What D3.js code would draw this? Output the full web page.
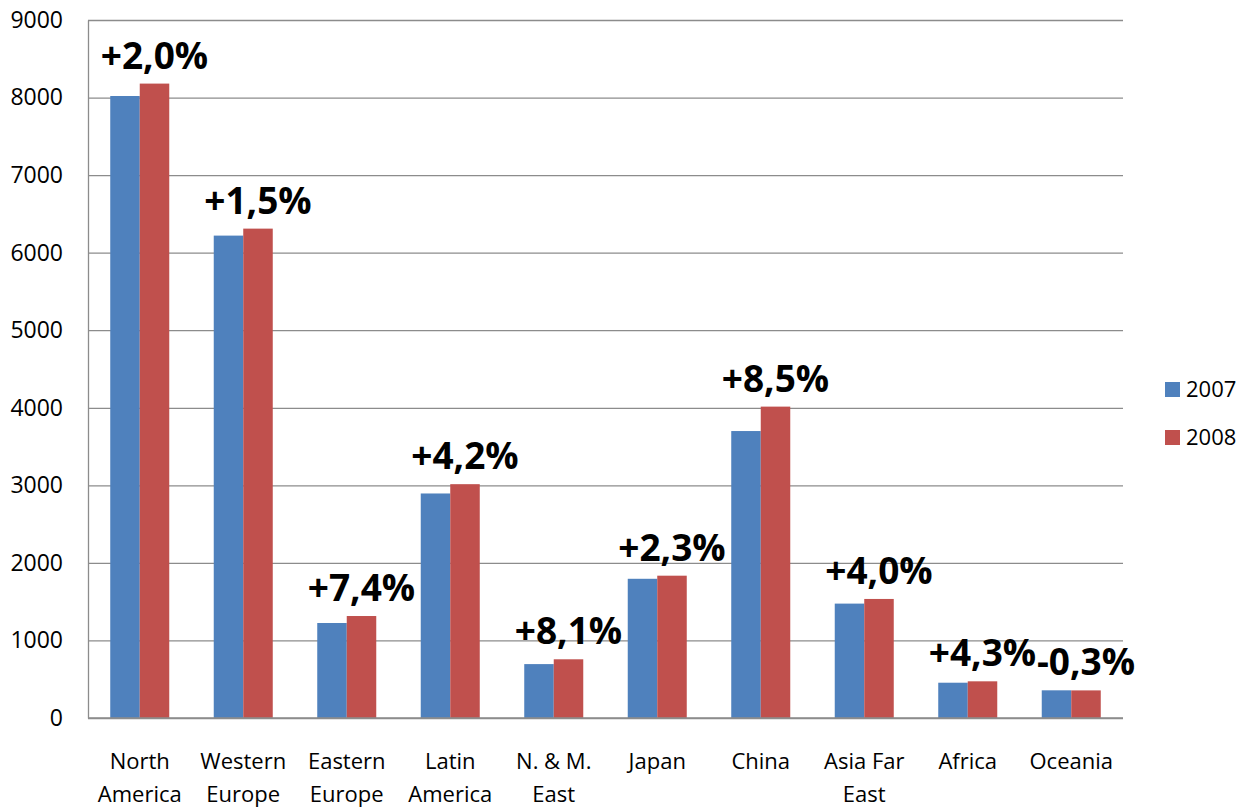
<!DOCTYPE html>
<html>
<head>
<meta charset="utf-8">
<script src="https://cdn.jsdelivr.net/npm/d3@7"></script>
<style>
  html, body { margin: 0; padding: 0; background: #fff; }
  svg text { font-family: 'Open Sans', 'DejaVu Sans', sans-serif; fill: #000; }
</style>
</head>
<body>
<div id="chart"></div>
<script>
// Regional values, 2007 vs 2008, with growth labels over each pair.
const categories = ['North America', 'Western Europe', 'Eastern Europe', 'Latin America', 'N. & M. East',
  'Japan', 'China', 'Asia Far East', 'Africa', 'Oceania'];
const categoryLines = [['North', 'America'], ['Western', 'Europe'], ['Eastern', 'Europe'], ['Latin', 'America'],
  ['N. & M.', 'East'], ['Japan'], ['China'], ['Asia Far', 'East'], ['Africa'], ['Oceania']];
const seriesNames = ['2007', '2008'];
const values2007 = [8020, 6220, 1225, 2895, 695, 1795, 3700, 1475, 455, 357];
const values2008 = [8180, 6310, 1315, 3015, 757, 1835, 4015, 1535, 473, 356];
const changeLabels = ['+2,0%', '+1,5%', '+7,4%', '+4,2%', '+8,1%', '+2,3%', '+8,5%', '+4,0%', '+4,3%', '-0,3%'];
const yTicks = [0, 1000, 2000, 3000, 4000, 5000, 6000, 7000, 8000, 9000];

const COLOURS = { '2007': '#4f81bd', '2008': '#c0504d', grid: '#8c8c8c' };

const width = 1252;
const height = 809;
const margin = { top: 20, right: 129, bottom: 91, left: 88 };
const chartWidth = width - margin.left - margin.right;
const chartHeight = height - margin.top - margin.bottom;

const data = categories.map((c, i) => ({
  name: c,
  lines: categoryLines[i],
  label: changeLabels[i],
  values: [
    { series: '2007', value: values2007[i] },
    { series: '2008', value: values2008[i] }
  ]
}));

const x0 = d3.scaleBand().domain(categories).range([0, chartWidth]).padding(0);
const x1 = d3.scaleBand().domain(seriesNames).range([0, x0.bandwidth()]).paddingInner(0).paddingOuter(0.754);
const y = d3.scaleLinear().domain([0, 9000]).range([chartHeight, 0]);

const svg = d3
  .select('#chart')
  .append('svg')
  .attr('width', width)
  .attr('height', height);

const g = svg.append('g').attr('transform', `translate(${margin.left},${margin.top})`);

// gridlines
g.append('g')
  .call(d3.axisLeft(y).tickValues(yTicks).tickSize(-chartWidth).tickFormat(''))
  .call((s) => s.select('.domain').remove())
  .selectAll('line')
  .attr('stroke', COLOURS.grid)
  .attr('stroke-width', 1.3);

// y axis labels
g.append('g')
  .call(d3.axisLeft(y).tickValues(yTicks).tickSize(0).tickPadding(25).tickFormat(d3.format('d')))
  .call((s) => s.select('.domain').attr('stroke', COLOURS.grid).attr('stroke-width', 1.3))
  .selectAll('text')
  .attr('font-size', 23)
  .attr('font-family', "'Open Sans', sans-serif");

// bars
const groups = g
  .selectAll('g.cat')
  .data(data)
  .join('g')
  .attr('class', 'cat')
  .attr('transform', (d) => `translate(${x0(d.name)},0)`);

groups
  .selectAll('rect')
  .data((d) => d.values)
  .join('rect')
  .attr('x', (d) => x1(d.series))
  .attr('y', (d) => y(d.value))
  .attr('width', x1.bandwidth())
  .attr('height', (d) => chartHeight - y(d.value))
  .attr('fill', (d) => COLOURS[d.series]);

// bottom axis line
g.append('line')
  .attr('x1', 0)
  .attr('x2', chartWidth)
  .attr('y1', y(0))
  .attr('y2', y(0))
  .attr('stroke', COLOURS.grid)
  .attr('stroke-width', 1.5);

// growth labels, centred over the 2008 bar
groups
  .append('text')
  .attr('x', x1('2008') + x1.bandwidth() / 2)
  .attr('y', (d) => y(d.values[1].value) - 15)
  .attr('text-anchor', 'middle')
  .attr('font-size', 37)
  .attr('font-weight', 'bold')
  .text((d) => d.label);

// category labels
const catLabels = groups
  .append('text')
  .attr('text-anchor', 'middle')
  .attr('font-size', 22)
  .attr('y', chartHeight + 51);

catLabels
  .selectAll('tspan')
  .data((d) => d.lines)
  .join('tspan')
  .attr('x', x0.bandwidth() / 2)
  .attr('dy', (d, i) => (i === 0 ? 0 : 33))
  .text((d) => d);

// legend
const legend = svg
  .append('g')
  .selectAll('g')
  .data(seriesNames)
  .join('g')
  .attr('transform', (d, i) => `translate(1165,${382 + i * 48})`);

legend
  .append('rect')
  .attr('width', 15)
  .attr('height', 15)
  .attr('fill', (d) => COLOURS[d]);

legend
  .append('text')
  .attr('x', 21)
  .attr('y', 15)
  .attr('font-size', 22)
  .text((d) => d);
</script>
</body>
</html>
